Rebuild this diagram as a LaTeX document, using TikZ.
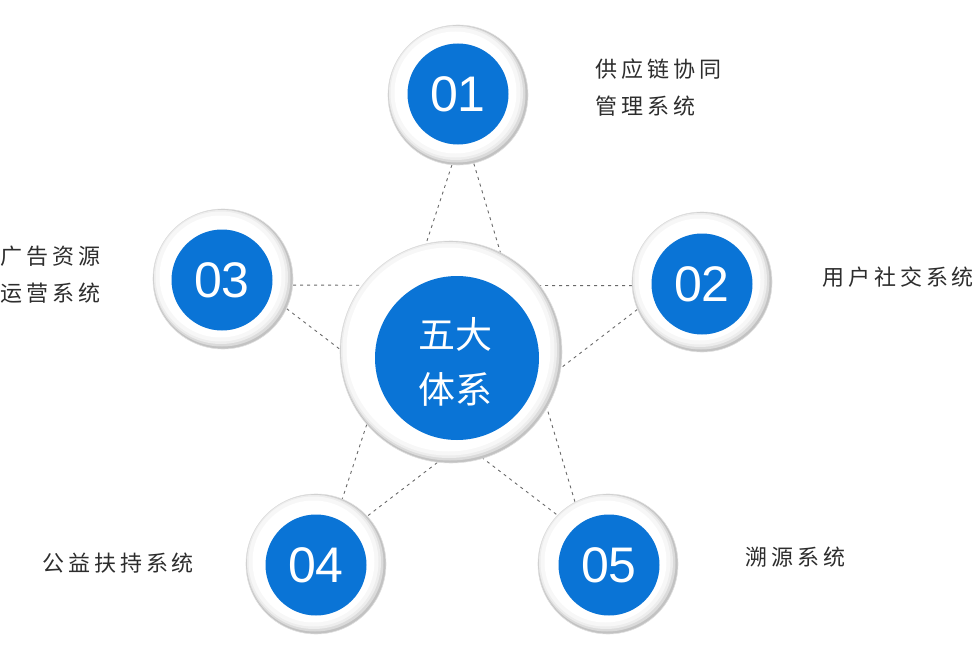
\documentclass[tikz,border=0pt]{standalone}
\usepackage{fontspec}
\setmainfont{Liberation Sans}
\newfontfamily\cjk[LetterSpace=18]{Noto Sans CJK SC}
\newfontfamily\cjkc{Noto Sans CJK SC}
\usetikzlibrary{backgrounds}
\definecolor{dotblue}{RGB}{10,116,214}
\definecolor{labelgray}{RGB}{45,45,45}
\definecolor{linkgray}{RGB}{105,105,105}
\begin{document}
\begin{tikzpicture}[x=1pt,y=-1pt,
  ring/.style={circle, draw=black!12, line width=0.6pt, fill=black!24, minimum size=2*#1, inner sep=0pt,
    path picture={
      \fill[black!14] ([shift={(-1,-1)}]path picture bounding box.center) circle[radius=#1-1.5pt];
      \fill[black!7] ([shift={(-2,-2)}]path picture bounding box.center) circle[radius=#1-3pt];
      \fill[black!3] ([shift={(-2.5,-2.5)}]path picture bounding box.center) circle[radius=#1-5pt];
      \fill[white] ([shift={(-2.5,-2.5)}]path picture bounding box.center) circle[radius=#1-9pt];
    }},
  ring/.default=70pt,
  disc/.style={circle, fill=dotblue, minimum size=#1, inner sep=0pt, text=white,
    font=\fontsize{50}{50}\selectfont},
  disc/.default=101pt,
  link/.style={draw=linkgray, line width=0.9pt, dash pattern=on 3pt off 4pt},
  lbl/.style={anchor=west, inner sep=0pt, text=labelgray, align=left,
    font=\cjk\fontsize{22}{37}\selectfont}]
\useasboundingbox (0,0) rectangle (978,669);
% centre
\node[ring=111pt] (oc) at (451,352) {};
\node[disc=164pt] (bc) at (457,358) {};
\node[text=white, align=center, inner sep=0pt, font=\cjkc\fontsize{37}{55}\selectfont] (ct) at (455,362) {五大\\体系};
% satellites
\node[ring] (o1) at (458,95) {};
\node[disc] (b1) at (458,94) {01};
\node[ring] (o2) at (702,282) {};
\node[disc] (b2) at (702,284) {02};
\node[ring] (o3) at (223,279) {};
\node[disc] (b3) at (222,280) {03};
\node[ring] (o4) at (316,564) {};
\node[disc] (b4) at (316,565) {04};
\node[ring] (o5) at (608,564) {};
\node[disc] (b5) at (609,565) {05};
% connectors
\begin{scope}[on background layer]
\draw[link] (o1.265) -- (o4.68);
\draw[link] (o1.283) -- (o5.118);
\draw[link] (o3.-5) -- (o2.183);
\draw[link] (o3.-25) -- (o5.136);
\draw[link] (o2.203) -- (o4.43);
\end{scope}
% labels
\node[lbl] (l1) at (595,88) {供应链协同\\管理系统};
\node[lbl] (l2) at (822,277) {用户社交系统};
\node[lbl] (l3) at (0,275) {广告资源\\运营系统};
\node[lbl] (l4) at (42,563) {公益扶持系统};
\node[lbl] (l5) at (745,557) {溯源系统};
\end{tikzpicture}
\end{document}
